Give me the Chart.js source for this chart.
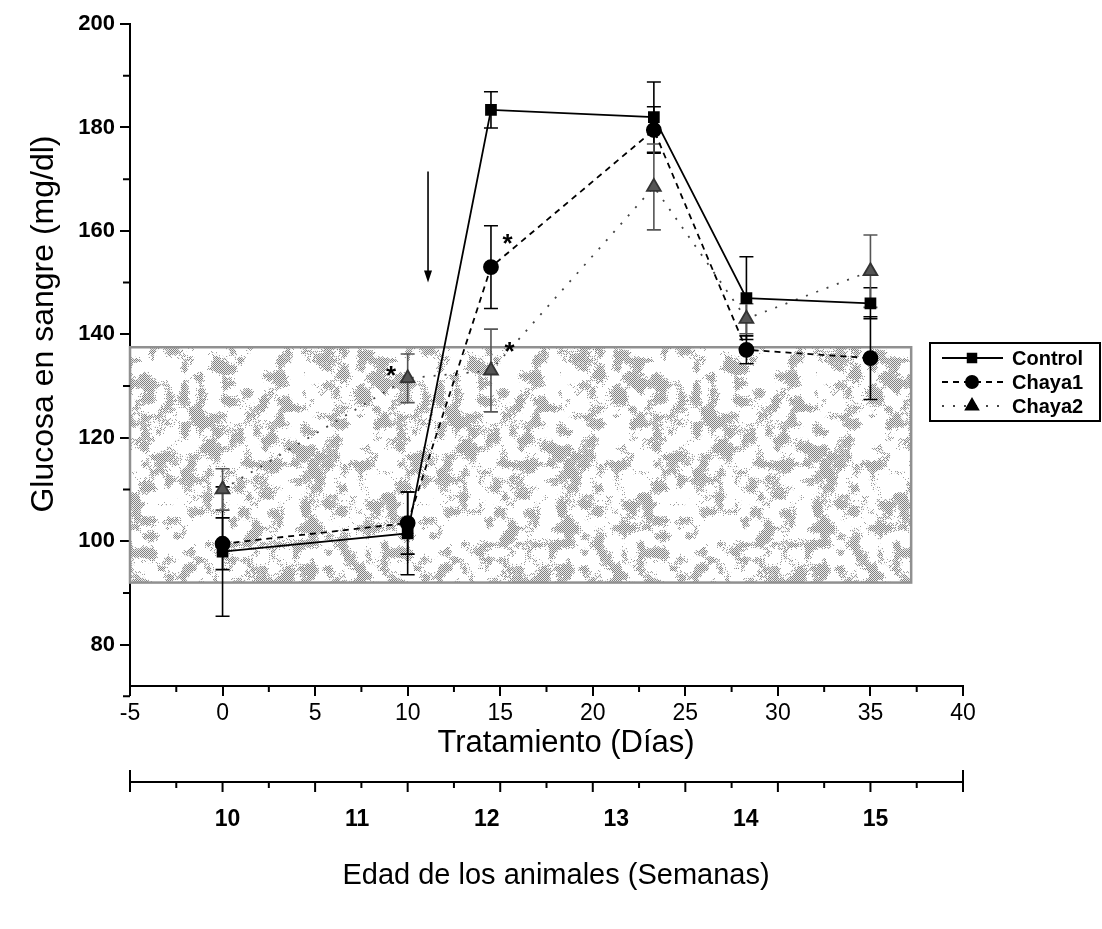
<!DOCTYPE html>
<html>
<head>
<meta charset="utf-8">
<script src="https://cdn.jsdelivr.net/npm/chart.js@4/dist/chart.umd.min.js"></script>
<style>
  body { margin: 0; background: #fff; }
  #wrap { width: 1102px; height: 929px; }
</style>
</head>
<body>
<div id="wrap"><canvas id="c"></canvas></div>
<script>
// days of treatment and glucose values (mg/dl)
const days = [0, 10, 14.5, 23.3, 28.3, 35];
const control = [98, 101.5, 183.4, 182, 147, 146];
const controlErr = [12.5, 8, 3.5, 6.8, 8, 3];
const chaya1 = [99.5, 103.5, 153, 179.5, 137, 135.4];
const chaya1Err = [5, 6, 8, 4.5, 2.7, 8];
const chaya2 = [110, 131.5, 133, 168.5, 143, 152.2];
const chaya2Err = [4, 4.7, 8, 8.3, 2.9, 7];

const xTicks = [-5, 0, 5, 10, 15, 20, 25, 30, 35, 40];
const yTicks = [80, 100, 120, 140, 160, 180, 200];
const weekTicks = [10, 11, 12, 13, 14, 15];

// normal range band
const bandX = [-5, 37.2];
const bandY = [92, 137.5];

const seriesNames = ['Control', 'Chaya1', 'Chaya2'];

const FONT = "'Liberation Sans', Arial, sans-serif";

function pts(vals) {
  return vals.map((v, i) => ({ x: days[i], y: v }));
}

// grey dithered blotches used for the band
function speckle() {
  const N = 256, cell = 8;
  const c = document.createElement('canvas');
  c.width = N; c.height = N;
  const g = c.getContext('2d');
  g.fillStyle = '#fff';
  g.fillRect(0, 0, N, N);
  let s = 2024;
  const rnd = () => { s = (s * 1103515245 + 12345) % 2147483648; return s / 2147483648; };
  const L = N / cell;
  const lat = [];
  for (let i = 0; i < L * L; i++) lat.push(rnd());
  const at = (i, j) => lat[((j + L) % L) * L + ((i + L) % L)];
  for (let y = 0; y < N; y++) {
    for (let x = 0; x < N; x++) {
      const fx = x / cell, fy = y / cell;
      const i = Math.floor(fx), j = Math.floor(fy);
      const tx = fx - i, ty = fy - j;
      const v = (at(i, j) * (1 - tx) + at(i + 1, j) * tx) * (1 - ty) +
                (at(i, j + 1) * (1 - tx) + at(i + 1, j + 1) * tx) * ty;
      const n = v + (rnd() - 0.5) * 0.3;
      if (n > 0.56) {
        g.fillStyle = (x + y) % 2 === 0 ? (n > 0.68 ? '#808080' : '#a0a0a0') : '#ebebeb';
        g.fillRect(x, y, 1, 1);
      }
    }
  }
  return c;
}

const bandPlugin = {
  id: 'band',
  beforeDatasetsDraw(chart) {
    const ctx = chart.ctx, xs = chart.scales.x, ys = chart.scales.y;
    const x0 = xs.getPixelForValue(bandX[0]), x1 = xs.getPixelForValue(bandX[1]);
    const y0 = ys.getPixelForValue(bandY[1]), y1 = ys.getPixelForValue(bandY[0]);
    ctx.save();
    ctx.fillStyle = ctx.createPattern(speckle(), 'repeat');
    ctx.fillRect(x0, y0, x1 - x0, y1 - y0);
    ctx.strokeStyle = '#909090';
    ctx.lineWidth = 2.5;
    ctx.strokeRect(x0, y0, x1 - x0, y1 - y0);
    ctx.restore();

    // error bars
    const errs = [controlErr, chaya1Err, chaya2Err];
    const vals = [control, chaya1, chaya2];
    ctx.save();
    errs.forEach((err, i) => {
      const meta = chart.getDatasetMeta(i);
      ctx.strokeStyle = i === 2 ? '#555' : '#000';
      ctx.lineWidth = 1.6;
      meta.data.forEach((p, j) => {
        const hi = ys.getPixelForValue(vals[i][j] + err[j]);
        const lo = ys.getPixelForValue(vals[i][j] - err[j]);
        ctx.beginPath();
        ctx.moveTo(p.x, hi); ctx.lineTo(p.x, lo);
        ctx.moveTo(p.x - 7, hi); ctx.lineTo(p.x + 7, hi);
        ctx.moveTo(p.x - 7, lo); ctx.lineTo(p.x + 7, lo);
        ctx.stroke();
      });
    });
    ctx.restore();
  }
};

const extrasPlugin = {
  id: 'extras',
  afterDraw(chart) {
    const ctx = chart.ctx, xs = chart.scales.x, ys = chart.scales.y;
    const area = chart.chartArea;
    ctx.save();
    ctx.strokeStyle = '#000';
    ctx.fillStyle = '#000';
    ctx.lineWidth = 2;

    // minor ticks
    ctx.beginPath();
    for (let i = 0; i < xTicks.length - 1; i++) {
      const px = xs.getPixelForValue(xTicks[i] + 2.5);
      ctx.moveTo(px, area.bottom); ctx.lineTo(px, area.bottom + 6);
    }
    for (let i = 0; i < yTicks.length; i++) {
      const py = ys.getPixelForValue(yTicks[i] - 10);
      ctx.moveTo(area.left, py); ctx.lineTo(area.left - 7, py);
    }
    ctx.stroke();

    // axis titles
    ctx.font = '32px ' + FONT;
    ctx.textAlign = 'center';
    ctx.textBaseline = 'middle';
    ctx.save();
    ctx.translate(44, 324);
    ctx.rotate(-Math.PI / 2);
    ctx.fillText('Glucosa en sangre (mg/dl)', 0, 0);
    ctx.restore();
    ctx.font = '31px ' + FONT;
    ctx.fillText('Tratamiento (D\u00edas)', 566, 743);

    // second axis: age in weeks
    const ay = 782;
    ctx.beginPath();
    ctx.moveTo(area.left, ay); ctx.lineTo(area.right, ay);
    ctx.moveTo(area.left, ay - 12); ctx.lineTo(area.left, ay + 10);
    ctx.moveTo(area.right, ay - 12); ctx.lineTo(area.right, ay + 10);
    xTicks.forEach((d, i) => {
      const px = xs.getPixelForValue(d);
      ctx.moveTo(px, ay); ctx.lineTo(px, ay + 10);
      if (i < xTicks.length - 1) {
        const pm = xs.getPixelForValue(d + 2.5);
        ctx.moveTo(pm, ay); ctx.lineTo(pm, ay + 6);
      }
    });
    ctx.stroke();
    ctx.font = 'bold 23px ' + FONT;
    weekTicks.forEach(w => {
      ctx.fillText(String(w), xs.getPixelForValue((w - 10) * 7) + 5, 820);
    });
    ctx.font = '29px ' + FONT;
    ctx.fillText('Edad de los animales (Semanas)', 556, 876);

    // arrow
    const ax = xs.getPixelForValue(11.1);
    const ayTop = ys.getPixelForValue(171.5), ayBot = ys.getPixelForValue(150);
    ctx.lineWidth = 1.6;
    ctx.beginPath();
    ctx.moveTo(ax, ayTop); ctx.lineTo(ax, ayBot - 8);
    ctx.stroke();
    ctx.beginPath();
    ctx.moveTo(ax - 4, ayBot - 12); ctx.lineTo(ax + 4, ayBot - 12); ctx.lineTo(ax, ayBot);
    ctx.closePath(); ctx.fill();

    // significance marks
    ctx.font = 'bold 26px ' + FONT;
    [[15.4, 158.5], [15.5, 137.5], [9.1, 133]].forEach(([x, y]) => {
      ctx.fillText('*', xs.getPixelForValue(x), ys.getPixelForValue(y) + 6);
    });

    // legend box
    const lx = 930, ly = 343, lw = 170, lh = 78;
    ctx.lineWidth = 2;
    ctx.strokeRect(lx, ly, lw, lh);
    ctx.font = 'bold 20px ' + FONT;
    ctx.textAlign = 'left';
    chart.data.datasets.forEach((ds, i) => {
      const ry = ly + 15 + i * 24;
      ctx.save();
      ctx.strokeStyle = ds.borderColor;
      ctx.lineWidth = ds.borderWidth;
      ctx.setLineDash(ds.borderDash || []);
      ctx.beginPath();
      ctx.moveTo(942, ry); ctx.lineTo(1003, ry);
      ctx.stroke();
      ctx.restore();
      Chart.helpers.drawPoint(ctx, {
        pointStyle: ds.pointStyle, radius: ds.pointRadius - 1, borderWidth: 1
      }, 972, ry);
      ctx.fillStyle = '#000';
      ctx.fillText(seriesNames[i], 1012, ry + 1);
    });
    ctx.restore();
  }
};

new Chart(document.getElementById('c'), {
  type: 'line',
  data: {
    datasets: [
      {
        label: seriesNames[0], data: pts(control),
        borderColor: '#000', backgroundColor: '#000', borderWidth: 1.8,
        pointStyle: 'rect', pointRadius: 7, pointBackgroundColor: '#000', pointBorderColor: '#000'
      },
      {
        label: seriesNames[1], data: pts(chaya1),
        borderColor: '#000', backgroundColor: '#000', borderWidth: 1.8, borderDash: [6, 5],
        pointStyle: 'circle', pointRadius: 7, pointBackgroundColor: '#000', pointBorderColor: '#000'
      },
      {
        label: seriesNames[2], data: pts(chaya2),
        borderColor: '#444', backgroundColor: '#555', borderWidth: 1.8, borderDash: [2, 9],
        pointStyle: 'triangle', pointRadius: 8, pointBackgroundColor: '#555', pointBorderColor: '#333'
      }
    ]
  },
  options: {
    responsive: true,
    maintainAspectRatio: false,
    animation: false,
    layout: { padding: { top: 24, right: 139, left: 0, bottom: 0 } },
    plugins: { legend: { display: false }, tooltip: { enabled: false } },
    scales: {
      x: {
        type: 'linear', min: -5, max: 40,
        afterBuildTicks: s => { s.ticks = xTicks.map(v => ({ value: v })); },
        afterFit: s => { s.height = 929 - 686; },
        ticks: { color: '#000', padding: 4, maxRotation: 0, autoSkip: false, font: { size: 23, family: FONT } },
        grid: { display: true, drawOnChartArea: false, drawTicks: true, tickLength: 10, color: '#000', lineWidth: 2 },
        border: { color: '#000', width: 2 }
      },
      y: {
        min: 72, max: 200,
        afterBuildTicks: s => { s.ticks = yTicks.map(v => ({ value: v })); },
        afterFit: s => { s.width = 130; },
        ticks: { color: '#000', padding: 5, font: { size: 22, family: FONT, weight: 'bold' } },
        grid: { display: true, drawOnChartArea: false, drawTicks: true, tickLength: 10, color: '#000', lineWidth: 2 },
        border: { color: '#000', width: 2 }
      }
    }
  },
  plugins: [bandPlugin, extrasPlugin]
});
</script>
</body>
</html>
